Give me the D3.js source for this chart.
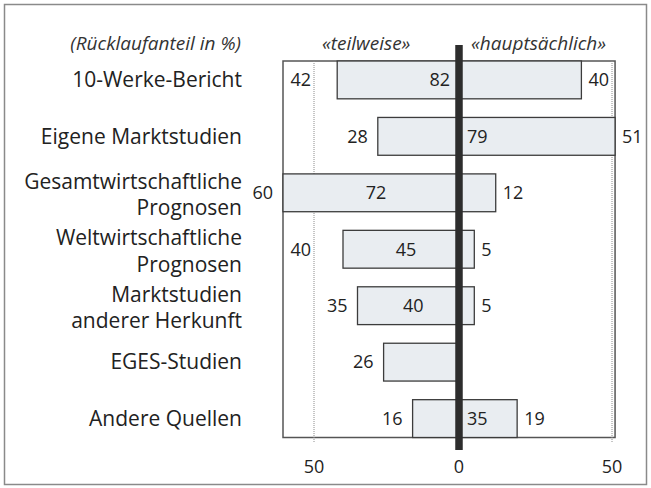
<!DOCTYPE html>
<html>
<head>
<meta charset="utf-8">
<script src="https://cdn.jsdelivr.net/npm/d3@7"></script>
<style>
  html, body { margin: 0; padding: 0; background: #fff; }
  svg { display: block; font-family: "Open Sans", sans-serif; }
</style>
</head>
<body>
<svg id="viz"></svg>
<script>
const categories = [
  '10-Werke-Bericht',
  'Eigene Marktstudien',
  'Gesamtwirtschaftliche\nPrognosen',
  'Weltwirtschaftliche\nPrognosen',
  'Marktstudien\nanderer Herkunft',
  'EGES-Studien',
  'Andere Quellen'
];
const teilweise = [42, 28, 60, 40, 35, 26, 16];
const hauptsaechlich = [40, 51, 12, 5, 5, 0, 19];
const totals = [82, 79, 72, 45, 40, null, 35];
const tickValues = [-50, 0, 50];
const tickLabels = ['50', '0', '50'];
const unitLabel = '(Rücklaufanteil in %)';
const leftHeader = '«teilweise»';
const rightHeader = '«hauptsächlich»';

(function() {
  const width = 651;
  const height = 488;

  const svg = d3.select('#viz')
    .attr('width', width)
    .attr('height', height)
    .attr('viewBox', `0 0 ${width} ${height}`);

  // outer frame
  svg.append('rect')
    .attr('x', 4.5).attr('y', 4.5)
    .attr('width', width - 9).attr('height', height - 8)
    .attr('fill', 'none')
    .attr('stroke', '#8a8a8a')
    .attr('stroke-width', 1.5);

  // left side is "teilweise" (negative), right side "hauptsächlich"
  const x = d3.scaleLinear()
    .domain([-60, -50, 0, 50])
    .range([283, 314, 459, 612]);

  const y = d3.scaleBand()
    .domain(categories)
    .range([61, 437.5])
    .paddingInner(0.33)
    .paddingOuter(0);

  const data = categories.map((c, i) => ({
    cat: c,
    left: teilweise[i],
    right: hauptsaechlich[i],
    total: totals[i]
  }));

  const boxLeft = x(-60);
  const boxRight = x(51);
  const boxTop = y.range()[0];
  const boxBottom = y.range()[1];

  // plot box
  svg.append('rect')
    .attr('x', boxLeft).attr('y', boxTop)
    .attr('width', boxRight - boxLeft)
    .attr('height', boxBottom - boxTop)
    .attr('fill', 'none')
    .attr('stroke', '#555')
    .attr('stroke-width', 1.5);

  // dotted gridlines at +-50
  svg.append('g')
    .selectAll('line')
    .data([-50, 50])
    .join('line')
    .attr('x1', d => x(d)).attr('x2', d => x(d))
    .attr('y1', boxTop).attr('y2', boxBottom + 5)
    .attr('stroke', '#8c8c8c')
    .attr('stroke-width', 1)
    .attr('stroke-dasharray', '1,1');

  // bars
  svg.append('g')
    .selectAll('rect')
    .data(data)
    .join('rect')
    .attr('x', d => x(-d.left))
    .attr('y', d => y(d.cat))
    .attr('width', d => x(d.right) - x(-d.left))
    .attr('height', y.bandwidth())
    .attr('fill', '#e9edf1')
    .attr('stroke', '#3c3c3c')
    .attr('stroke-width', 1.3);

  // thick zero line
  svg.append('line')
    .attr('x1', x(0)).attr('x2', x(0))
    .attr('y1', 45).attr('y2', 450)
    .attr('stroke', '#2d2d2d')
    .attr('stroke-width', 7.5);

  const numSize = 18;
  const labels = svg.append('g')
    .style('font-size', numSize + 'px')
    .attr('fill', '#222');

  // left values: outside the bar, pushed left of the gridline if they would cross it
  labels.selectAll('text.left')
    .data(data)
    .join('text')
    .attr('class', 'left')
    .attr('text-anchor', 'end')
    .attr('dy', '0.35em')
    .attr('y', d => y(d.cat) + y.bandwidth() / 2)
    .text(d => d.left)
    .attr('x', function(d) {
      const barLeft = x(-d.left);
      let pos = barLeft - 10;
      const w = this.getComputedTextLength();
      if (barLeft > x(-50) && pos - w < x(-50) + 3) pos = x(-50) - 3;
      return pos;
    });

  // right values
  labels.selectAll('text.right')
    .data(data.filter(d => d.right > 0))
    .join('text')
    .attr('class', 'right')
    .attr('x', d => x(d.right) + 7)
    .attr('y', d => y(d.cat) + y.bandwidth() / 2)
    .attr('dy', '0.35em')
    .text(d => d.right);

  // totals inside the bar
  labels.selectAll('text.total')
    .data(data.filter(d => d.total != null))
    .join('text')
    .attr('class', 'total')
    .attr('y', d => y(d.cat) + y.bandwidth() / 2)
    .attr('dy', '0.35em')
    .each(function(d) {
      const t = d3.select(this);
      if (d.right >= 15) {
        if (d.left >= d.right) t.attr('x', x(0) - 9).attr('text-anchor', 'end');
        else t.attr('x', x(0) + 8).attr('text-anchor', 'start');
      } else {
        t.attr('x', (x(-d.left) + x(0) + 10) / 2).attr('text-anchor', 'middle');
      }
    })
    .text(d => d.total);

  // category labels
  const catG = svg.append('g')
    .style('font-size', '21px')
    .attr('fill', '#222')
    .attr('text-anchor', 'end');

  catG.selectAll('text')
    .data(data)
    .join('text')
    .attr('x', 242)
    .attr('y', d => y(d.cat) + y.bandwidth() / 2)
    .each(function(d) {
      const lines = d.cat.split('\n');
      const lh = 26.5;
      const start = -(lines.length - 1) * lh / 2 + (lines.length > 1 ? 2 : 0);
      d3.select(this).selectAll('tspan')
        .data(lines)
        .join('tspan')
        .attr('x', 242)
        .attr('dy', (l, i) => i === 0 ? (start / 21 + 0.35) + 'em' : lh + 'px')
        .text(l => l);
    });

  // headers
  const head = svg.append('g')
    .style('font-size', '19px')
    .style('font-style', 'italic')
    .attr('fill', '#333');

  head.append('text')
    .attr('x', 241).attr('y', 43).attr('dy', '0.35em')
    .attr('text-anchor', 'end')
    .text(unitLabel);

  head.append('text')
    .attr('x', x(-32)).attr('y', 43).attr('dy', '0.35em')
    .attr('text-anchor', 'middle')
    .text(leftHeader);

  head.append('text')
    .attr('x', x(26)).attr('y', 43).attr('dy', '0.35em')
    .attr('text-anchor', 'middle')
    .text(rightHeader);

  // bottom tick labels
  svg.append('g')
    .style('font-size', '18px')
    .attr('fill', '#222')
    .attr('text-anchor', 'middle')
    .selectAll('text')
    .data(tickValues)
    .join('text')
    .attr('x', d => x(d))
    .attr('y', 467)
    .attr('dy', '0.35em')
    .text((d, i) => tickLabels[i]);
})();
</script>
</body>
</html>
